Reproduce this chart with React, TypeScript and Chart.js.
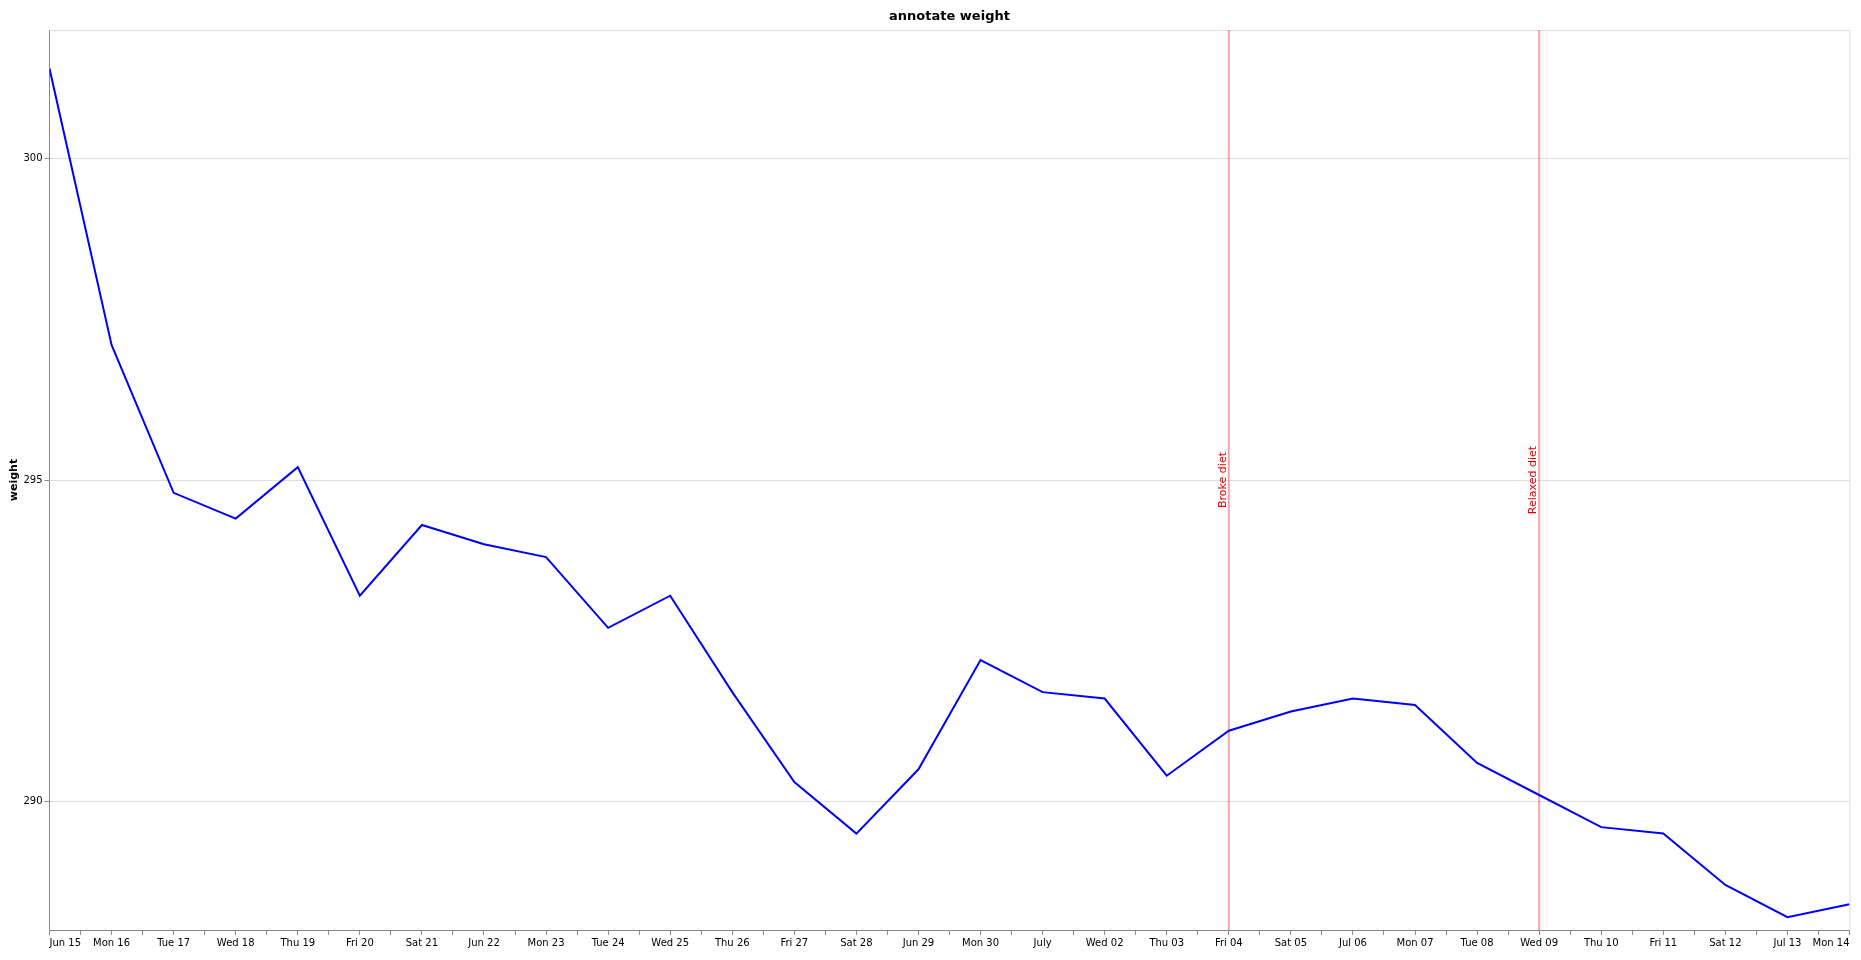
import React, { useEffect, useRef } from "react";
import { Chart, registerables } from "chart.js";

Chart.register(...registerables);

const chartTitle = "annotate weight";
const yTitle = "weight";
const dayLabels = [
  "Jun 15", "Mon 16", "Tue 17", "Wed 18", "Thu 19", "Fri 20", "Sat 21", "Jun 22",
  "Mon 23", "Tue 24", "Wed 25", "Thu 26", "Fri 27", "Sat 28", "Jun 29", "Mon 30",
  "July", "Wed 02", "Thu 03", "Fri 04", "Sat 05", "Jul 06", "Mon 07", "Tue 08",
  "Wed 09", "Thu 10", "Fri 11", "Sat 12", "Jul 13", "Mon 14",
];
const weights = [
  301.4, 297.1, 294.8, 294.4, 295.2, 293.2, 294.3, 294.0, 293.8, 292.7,
  293.2, 291.7, 290.3, 289.5, 290.5, 292.2, 291.7, 291.6, 290.4, 291.1,
  291.4, 291.6, 291.5, 290.6, 290.1, 289.6, 289.5, 288.7, 288.2, 288.4,
];
const yTicks = [290, 295, 300];
const yMin = 288;
const yMax = 302;
const annotationDays = [19, 24];
const annotationLabels = ["Broke diet", "Relaxed diet"];

const FONT = "'DejaVu Sans', sans-serif";

const overlayPlugin = {
  id: "overlay",
  beforeDatasetsDraw(chart: any) {
    const { ctx, chartArea, scales } = chart;
    const { left, right, top, bottom } = chartArea;
    ctx.save();
    // light frame top / right
    ctx.strokeStyle = "#dddddd";
    ctx.lineWidth = 1;
    ctx.beginPath();
    ctx.moveTo(left, top + 0.5);
    ctx.lineTo(right + 0.5, top + 0.5);
    ctx.lineTo(right + 0.5, bottom);
    ctx.stroke();
    // annotations
    annotationDays.forEach((d, i) => {
      const x = scales.x.getPixelForValue(d);
      ctx.strokeStyle = "rgba(240, 80, 80, 0.5)";
      ctx.lineWidth = 2;
      ctx.beginPath();
      ctx.moveTo(x, top);
      ctx.lineTo(x, bottom);
      ctx.stroke();
      ctx.save();
      ctx.translate(x - 3, (top + bottom) / 2);
      ctx.rotate(-Math.PI / 2);
      ctx.fillStyle = "#e00000";
      ctx.font = `11px ${FONT}`;
      ctx.textAlign = "center";
      ctx.textBaseline = "alphabetic";
      ctx.fillText(annotationLabels[i], 0, 0);
      ctx.restore();
    });
    ctx.restore();
  },
};

export default function App() {
  const ref = useRef<HTMLCanvasElement | null>(null);

  useEffect(() => {
    if (!ref.current) return;
    const lastIdx = dayLabels.length - 1;
    const xTickValues = dayLabels.flatMap((_, i) => (i < lastIdx ? [i, i + 0.5] : [i]));
    const chart = new Chart(ref.current, {
      type: "line",
      data: {
        datasets: [
          {
            data: weights.map((w, i) => ({ x: i, y: w })),
            borderColor: "#0000ff",
            borderWidth: 2,
            pointRadius: 0,
            tension: 0,
            fill: false,
          },
        ],
      },
      options: {
        animation: false,
        responsive: false,
        maintainAspectRatio: false,
        layout: { padding: { left: 0, right: 11.5, top: 0, bottom: 0 } },
        plugins: {
          legend: { display: false },
          tooltip: { enabled: false },
          title: {
            display: true,
            fullSize: false,
            text: chartTitle,
            color: "#000",
            font: { family: FONT, size: 13, weight: "bold" },
            padding: { top: 8.8, bottom: 5.6 },
          },
        },
        scales: {
          x: {
            type: "linear",
            min: 0,
            max: lastIdx,
            afterBuildTicks: (axis: any) => {
              axis.ticks = xTickValues.map((v) => ({ value: v }));
            },
            afterFit: (s: any) => {
              s.height = 30;
            },
            grid: {
              drawOnChartArea: false,
              drawTicks: true,
              tickLength: 5,
              tickColor: "#888888",
              color: "#888888",
            },
            border: { display: true, color: "#888888", width: 1 },
            ticks: {
              autoSkip: false,
              maxRotation: 0,
              minRotation: 0,
              align: "inner",
              padding: 2,
              color: "#000",
              font: { family: FONT, size: 10 },
              callback: (v: any) => (Number.isInteger(v) ? dayLabels[v] : ""),
            },
          },
          y: {
            type: "linear",
            min: yMin,
            max: yMax,
            afterBuildTicks: (axis: any) => {
              axis.ticks = yTicks.map((v) => ({ value: v }));
            },
            afterFit: (s: any) => {
              s.width = 49.5;
            },
            grid: {
              color: "#dddddd",
              tickColor: "#888888",
              tickLength: 5,
              drawTicks: true,
            },
            border: { display: true, color: "#888888", width: 1 },
            title: {
              display: true,
              text: yTitle,
              color: "#000",
              font: { family: FONT, size: 11, weight: "bold" },
              padding: { top: 8, bottom: 0 },
            },
            ticks: {
              padding: 2,
              color: "#000",
              font: { family: FONT, size: 10 },
              callback: (v: any) => String(v),
            },
          },
        },
      },
      plugins: [overlayPlugin],
    });
    return () => chart.destroy();
  }, []);

  return (
    <div style={{ position: "fixed", left: 0, top: 0, width: 1861, height: 960, background: "#fff" }}>
      <canvas ref={ref} width={1861} height={960} style={{ display: "block", width: 1861, height: 960 }} />
    </div>
  );
}
